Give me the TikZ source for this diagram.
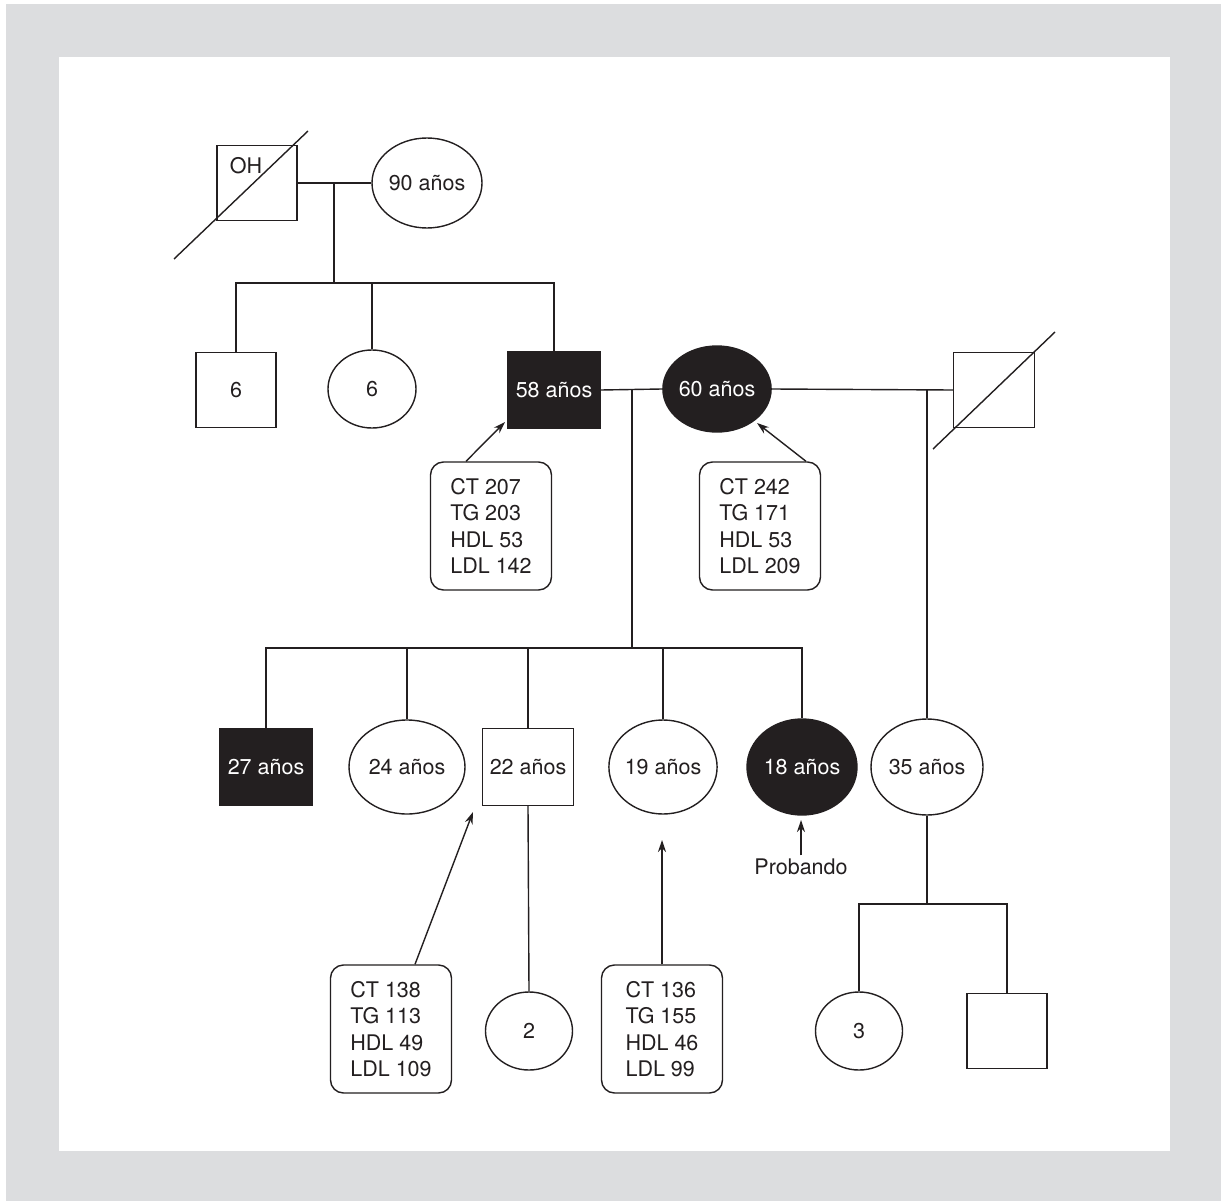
\documentclass[tikz,border=0pt]{standalone}
\usepackage{fontspec}
\setmainfont{TeX Gyre Heros}
\usetikzlibrary{arrows.meta, positioning, shapes.geometric}
\definecolor{bggray}{RGB}{220,221,223}
\definecolor{ink}{RGB}{35,31,32}
\tikzset{
  male/.style ={rectangle, draw=ink, line width=1.4pt, minimum width=80pt, minimum height=75pt, inner sep=0pt},
  fem/.style  ={ellipse, draw=ink, line width=1.4pt, inner sep=0pt},
  aff/.style  ={fill=ink, text=white},
  lab/.style  ={rectangle, rounded corners=13pt, draw=ink, line width=1.4pt, align=left, minimum width=121pt, minimum height=128pt, inner sep=0pt},
  ln/.style   ={draw=ink, line width=1.4pt},
  fl/.style   ={-{Stealth[length=12pt, width=8pt]}, draw=ink, line width=1.4pt},
}

\begin{document}
\begin{tikzpicture}[x=1pt, y=-1pt, font=\fontsize{21.5}{26.5}\selectfont, text=ink]
  \useasboundingbox (0,0) rectangle (1221,1201);
  \fill[bggray] (6,4) rectangle (1221,1201);
  \fill[white] (59,57) rectangle (1170,1151);

  % abuelos
  \node[male] (gf) at (257,183) {};
  \node (gfoh) at (246,166) {OH};
  \node[fem, minimum width=110pt, minimum height=90pt] (gm) at (427,183) {90 años};
  \coordinate (gfa) at (174,259);
  \coordinate (gfb) at (308,131);
  \draw[ln] (gfa) -- (gfb);
  \coordinate (gd) at (334,183);
  \coordinate (gs) at (334,283);
  \draw[ln] (gf.east) -- (gm.west);
  \draw[ln] (gd) -- (gs);

  % segunda generacion
  \node[male] (u1) at (236,390) {6};
  \node[fem, minimum width=88pt, minimum height=78pt] (a1) at (372,389) {6};
  \node[male, aff, minimum width=92pt, minimum height=77pt] (fa) at (554,390) {58 años};
  \node[fem, aff, minimum width=104pt, minimum height=86pt] (mo) at (717,389) {60 años};
  \node[male, minimum width=81pt] (sf) at (994,390) {};
  \coordinate (sfa) at (933,449);
  \coordinate (sfb) at (1055,332);
  \draw[ln] (sfa) -- (sfb);
  \draw[ln] (u1.north) |- (gs) -| (fa.north);
  \draw[ln] (a1.north) -- (a1.north |- gs);
  \draw[ln] (fa.east) -- (mo.west);
  \draw[ln] (mo.east) -- (sf.west);
  \coordinate (pd) at (632,389);
  \coordinate (hd) at (927,389);

  % lipidos padres
  \node[lab] (b1) at (491,526) {CT 207\\TG 203\\HDL 53\\LDL 142};
  \node[lab] (b2) at (760,526) {CT 242\\TG 171\\HDL 53\\LDL 209};
  \coordinate (t1) at (505,422);
  \coordinate (t2) at (757,423);
  \draw[fl] ([xshift=-25pt]b1.north) -- (t1);
  \draw[fl] ([xshift=46pt]b2.north) -- (t2);

  % hijos
  \node[male, aff, minimum width=92pt, minimum height=77pt] (c1) at (266,767) {27 años};
  \node[fem, minimum width=116pt, minimum height=94pt] (c2) at (407,767) {24 años};
  \node[male, minimum width=91pt, minimum height=77pt] (c3) at (528,767) {22 años};
  \node[fem, minimum width=104pt, minimum height=94pt] (c4) at (663,767) {19 años};
  \node[fem, aff, minimum width=110pt, minimum height=96pt] (c5) at (802,767) {18 años};
  \node[fem, minimum width=112pt, minimum height=96pt] (c6) at (927,767) {35 años};
  \coordinate (cs) at (632,648);
  \draw[ln] (pd) -- (cs);
  \draw[ln] (c1.north) |- (cs) -| (c5.north);
  \draw[ln] (c2.north) -- (c2.north |- cs);
  \draw[ln] (c3.north) -- (c3.north |- cs);
  \draw[ln] (c4.north) -- (c4.north |- cs);
  \draw[ln] (hd) -- (c6.north);
  \node (pr) at (801,867) {Probando};
  \coordinate (t5) at (801,820);
  \draw[fl] (pr.north) -- (t5);

  % nietos
  \node[fem, minimum width=87pt, minimum height=78pt] (g1) at (529,1031) {2};
  \node[fem, minimum width=87pt, minimum height=78pt] (g2) at (859,1031) {3};
  \node[male] (g3) at (1007,1031) {};
  \coordinate (gs2) at (927,904);
  \draw[ln] (c3.south) -- (g1.north);
  \draw[ln] (c6.south) -- (gs2);
  \draw[ln] (g2.north) |- (gs2) -| (g3.north);

  % lipidos hijos
  \node[lab] (b3) at (391,1029) {CT 138\\TG 113\\HDL 49\\LDL 109};
  \node[lab] (b4) at (662,1029) {CT 136\\TG 155\\HDL 46\\LDL 99};
  \coordinate (t3) at (473,812);
  \coordinate (t4) at (662,840);
  \draw[fl] ([xshift=24pt]b3.north) -- (t3);
  \draw[fl] (b4.north) -- (t4);
\end{tikzpicture}
\end{document}
